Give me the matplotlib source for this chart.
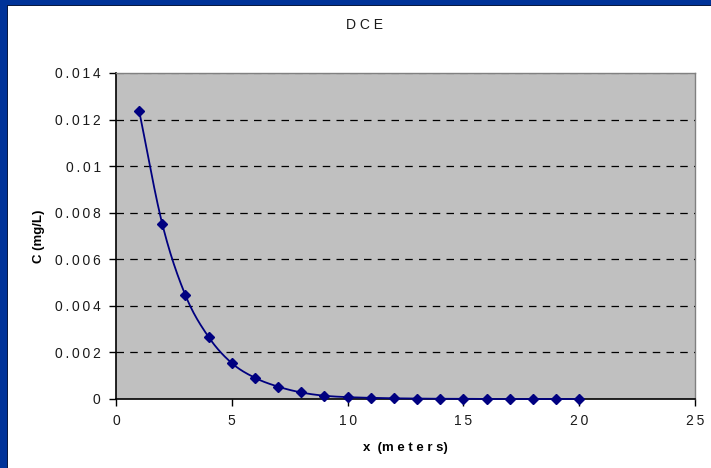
import numpy as np
import matplotlib
matplotlib.use("Agg")
import matplotlib.pyplot as plt
from matplotlib.patches import Rectangle

plt.rcParams['font.family'] = ['Liberation Sans', 'DejaVu Sans']

# Concentration profile along the flow path
distance_m = [1, 2, 3, 4, 5, 6, 7, 8, 9, 10, 11, 12, 13, 14, 15, 16, 17, 18, 19, 20]
conc_mg_per_l = [0.01237, 0.00751, 0.00445, 0.00266, 0.00154, 0.00091, 0.00053,
                 0.00028, 0.00014, 0.00008, 0.00005, 0.00003, 0.00002, 0.00001,
                 0.00001, 0.0, 0.0, 0.0, 0.0, 0.0]
x_ticks = [0, 5, 10, 15, 20, 25]
y_ticks = [0, 0.002, 0.004, 0.006, 0.008, 0.01, 0.012, 0.014]
y_tick_labels = ["0", "0.002", "0.004", "0.006", "0.008", "0.01", "0.012", "0.014"]


def spaced(s):
    """Widen character spacing with thin spaces."""
    return "\u2009".join(s)


def smooth_curve(xs, ys, n=20):
    """Catmull-Rom spline through the points (smoothed line)."""
    xs = np.asarray(xs, float)
    ys = np.asarray(ys, float)
    px = np.concatenate([[2 * xs[0] - xs[1]], xs, [2 * xs[-1] - xs[-2]]])
    py = np.concatenate([[2 * ys[0] - ys[1]], ys, [2 * ys[-1] - ys[-2]]])
    out_x, out_y = [], []
    t = np.linspace(0, 1, n, endpoint=False)
    for i in range(1, len(px) - 2):
        p0, p1, p2, p3 = (np.array([px[j], py[j]]) for j in (i - 1, i, i + 1, i + 2))
        pts = 0.5 * ((2 * p1)[:, None] + (-p0 + p2)[:, None] * t
                     + (2 * p0 - 5 * p1 + 4 * p2 - p3)[:, None] * t ** 2
                     + (-p0 + 3 * p1 - 3 * p2 + p3)[:, None] * t ** 3)
        out_x.extend(pts[0]); out_y.extend(pts[1])
    out_x.append(xs[-1]); out_y.append(ys[-1])
    return np.array(out_x), np.array(out_y)


fig = plt.figure(figsize=(7.11, 4.68), dpi=100)
W, H = 711, 468

# blue frame on the top and left edges
fig.patches.append(Rectangle((0, 1 - 6 / H), 1, 6 / H, transform=fig.transFigure,
                             facecolor="#003399", edgecolor="none", zorder=0))
fig.patches.append(Rectangle((0, 0), 8 / W, 1, transform=fig.transFigure,
                             facecolor="#003399", edgecolor="none", zorder=0))
fig.patches.append(Rectangle((7 / W, 0), 1 / W, 1 - 5 / H, transform=fig.transFigure,
                             facecolor="#0a1a40", edgecolor="none", zorder=0))
fig.patches.append(Rectangle((7 / W, 1 - 6 / H), 1 - 7 / W, 1 / H, transform=fig.transFigure,
                             facecolor="#0a1a40", edgecolor="none", zorder=0))

ax = fig.add_axes([116 / W, 1 - 399 / H, (695 - 116) / W, (399 - 73) / H])
ax.set_facecolor("#c0c0c0")

ax.set_xlim(0, 25)
ax.set_ylim(0, 0.014)
ax.set_xticks(x_ticks)
ax.set_xticklabels([spaced(str(v)) for v in x_ticks])
ax.set_yticks(y_ticks)
ax.set_yticklabels([spaced(s) for s in y_tick_labels])

for yv in y_ticks[1:-1]:
    ax.axhline(yv, color="black", lw=0.9, ls=(0, (6, 5)), zorder=1)
ax.axhline(y_ticks[-1], color="#808080", lw=0.9, ls=(0, (6, 5)), zorder=1)

sx, sy = smooth_curve(distance_m, conc_mg_per_l)
ax.plot(sx, sy, color="#000080", lw=1.3, zorder=3, clip_on=False)
ax.plot(distance_m, conc_mg_per_l, ls="none", marker="D", ms=5.5,
        color="#000080", zorder=4, clip_on=False)

for side in ("top", "right"):
    ax.spines[side].set_color("#808080")
    ax.spines[side].set_linewidth(1.0)
for side in ("left", "bottom"):
    ax.spines[side].set_color("black")
    ax.spines[side].set_linewidth(1.2)

ax.tick_params(axis="both", direction="out", length=5, width=1, color="black",
               labelsize=10, labelcolor="#1a1a1a", pad=6)

fig.text(364 / W, 1 - 25 / H, "D C E", fontsize=10, color="#1a1a1a",
         ha="center", va="center")
ax.set_xlabel("x  (m e t e r s)", fontsize=9.5, fontweight="bold", labelpad=10)
ax.set_ylabel("C (mg/L)", fontsize=9.5, fontweight="bold", labelpad=7)

fig.savefig("out.png", dpi=100, facecolor="white")
